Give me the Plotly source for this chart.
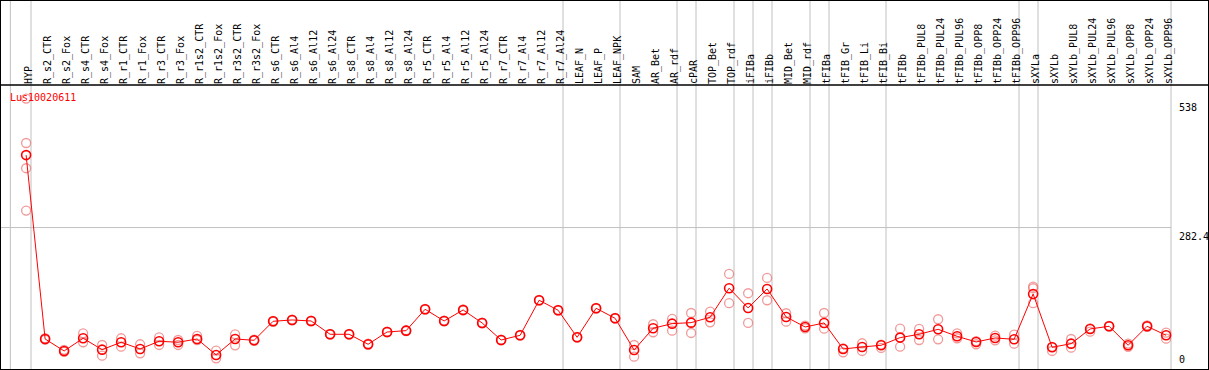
import plotly.graph_objects as go

categories = ["HYP", "R_s2_CTR", "R_s2_Fox", "R_s4_CTR", "R_s4_Fox", "R_r1_CTR", "R_r1_Fox",
              "R_r3_CTR", "R_r3_Fox", "R_r1s2_CTR", "R_r1s2_Fox", "R_r3s2_CTR", "R_r3s2_Fox",
              "R_s6_CTR", "R_s6_Al4", "R_s6_Al12", "R_s6_Al24", "R_s8_CTR", "R_s8_Al4", "R_s8_Al12",
              "R_s8_Al24", "R_r5_CTR", "R_r5_Al4", "R_r5_Al12", "R_r5_Al24", "R_r7_CTR", "R_r7_Al4",
              "R_r7_Al12", "R_r7_Al24", "LEAF_N", "LEAF_P", "LEAF_NPK", "SAM", "AR_Bet", "AR_rdf",
              "cPAR", "TOP_Bet", "TOP_rdf", "iFIBa", "iFIBb", "MID_Bet", "MID_rdf", "tFIBa",
              "tFIB_Gr", "tFIB_Li", "tFIB_Bi", "tFIBb", "tFIBb_PUL8", "tFIBb_PUL24", "tFIBb_PUL96",
              "tFIBb_OPP8", "tFIBb_OPP24", "tFIBb_OPP96", "sXYLa", "sXYLb", "sXYLb_PUL8",
              "sXYLb_PUL24", "sXYLb_PUL96", "sXYLb_OPP8", "sXYLb_OPP24", "sXYLb_OPP96"]

mean_values = [426, 61.5, 37.7, 62.9, 40.3, 55, 41.7, 57, 55, 61.5, 29.8, 61.5, 58.9,
               96.6, 99.2, 97.2, 70.8, 70.8, 51, 75.4, 78, 120.4, 97.2, 119, 93.3, 59.5, 68.8,
               138.3, 118.5, 64.8, 122.4, 102.5, 39.7, 82.7, 91.9, 93.9, 104.6, 162.1, 123,
               160.7, 105.2, 85.3, 93.3, 41.7, 45.6, 49, 64.2, 70.8, 80.7, 66.8, 55.6, 63.5,
               60.9, 150.8, 45, 52.2, 81.4, 86.7, 49, 86.7, 68.8]

rep_a = [538, 63, 40, 72.8, 49.6, 62.9, 51, 64.8, 59.5, 67.5, 38.4, 70.8, 60,
         97.5, 100, 98, 71.5, 71.5, 52, 76, 79, 121, 98, 120, 94, 60.2, 69.5,
         139, 119.3, 65.5, 123, 103.2, 49.6, 90.7, 101.2, 113, 115.7, 190.5, 152.2,
         182.6, 112.5, 88, 113, 43, 53, 50.5, 82, 81.4, 100.6, 72.8, 57, 68,
         70, 165.3, 46, 61.5, 82.5, 87.5, 52.3, 88.5, 74]

rep_b = [316, 60, 36, 55, 28.4, 46.2, 33, 49.6, 49.6, 59.5, 23.2, 49, 58,
         95.5, 98.5, 96.5, 70, 70, 50, 74.8, 77, 119.8, 96.5, 118, 92.5, 58.8, 68,
         137.5, 117.8, 64, 121.7, 101.8, 26.4, 74.8, 78, 73.4, 94.6, 132.4, 93.3,
         138.3, 95.9, 82.5, 82, 35, 37.7, 43.7, 46.2, 59.5, 60.9, 62.9, 51, 58.9,
         52.2, 132.4, 37.7, 44.3, 76, 86, 46, 85.5, 62.1]

rep_c = [450] + [None] * 52 + [162.1] + [None] * 7
rep_d = [400] + [None] * 60

separator_after = ["HYP", "R_r7_Al24", "LEAF_NPK", "AR_rdf", "cPAR", "TOP_rdf", "iFIBa",
                   "iFIBb", "MID_rdf", "tFIBa", "tFIB_Bi", "tFIBb_OPP96", "sXYLa", "sXYLb_OPP96"]

y_ticks = [538, 282.4, 0]
gene_label = "Lus10020611"

FONT = "DejaVu Sans Mono"
W, H = 1209, 370
HEADER = 85
ymax = 565
STEP = 19.0
X0PX = 26.115
XR = [-X0PX / STEP, -X0PX / STEP + W / STEP]

fig = go.Figure()

rx, ry = [], []
for reps in (rep_a, rep_b, rep_c, rep_d):
    for c, v in zip(categories, reps):
        if v is not None:
            rx.append(c)
            ry.append(v)

fig.add_trace(go.Scatter(x=rx, y=ry, mode="markers",
                         marker=dict(symbol="circle-open", size=9, color="rgba(235,120,120,0.75)",
                                     line=dict(width=1.3)),
                         hoverinfo="skip", showlegend=False))
fig.add_trace(go.Scatter(x=categories, y=mean_values, mode="lines+markers",
                         line=dict(color="#ff0000", width=1),
                         marker=dict(symbol="circle-open", size=9, color="#ff0000",
                                     line=dict(width=1.6)),
                         showlegend=False))

shapes = []
idx = {c: i for i, c in enumerate(categories)}
off = 0.2571
sep_x = [-0.83] + [idx[s] + off for s in separator_after]
for sx in sep_x:
    shapes.append(dict(type="line", xref="x", yref="paper", x0=sx, x1=sx, y0=0, y1=1,
                       line=dict(color="#c0c0c0", width=1), layer="below"))
shapes.append(dict(type="line", xref="paper", yref="y", x0=0,
                   x1=(sep_x[-1] - XR[0]) / (XR[1] - XR[0]),
                   y0=y_ticks[1], y1=y_ticks[1], line=dict(color="#c0c0c0", width=1), layer="below"))
top_frac = 1 - HEADER / H
shapes.append(dict(type="line", xref="paper", yref="paper", x0=0, x1=1, y0=top_frac, y1=top_frac,
                   line=dict(color="black", width=1.5)))
shapes.append(dict(type="rect", xref="paper", yref="paper", x0=0, x1=1, y0=0, y1=1,
                   line=dict(color="black", width=2)))

annotations = [dict(text=gene_label, xref="paper", yref="paper", x=8 / W, y=1 - 97 / H,
                    xanchor="left", yanchor="middle", showarrow=False,
                    font=dict(family=FONT, size=10, color="#ff0000"))]
for v in y_ticks:
    txt = f"{v:g}"
    annotations.append(dict(text=txt, xref="paper", yref="y", x=1177 / W, y=v,
                            xanchor="left", yanchor="bottom" if v == 0 else "top",
                            yshift=3 if v == 0 else -1, showarrow=False,
                            font=dict(family=FONT, size=10, color="black")))

fig.update_layout(
    width=W, height=H, margin=dict(l=0, r=0, t=0, b=0),
    paper_bgcolor="white", plot_bgcolor="white",
    shapes=shapes, annotations=annotations,
    xaxis=dict(type="category", side="top", range=XR, tickangle=-90,
               tickmode="array", tickvals=categories, ticktext=categories,
               tickfont=dict(family=FONT, size=10, color="black"), ticks="",
               ticklabelshift=3,
               showgrid=False, zeroline=False, showline=False, automargin=False),
    yaxis=dict(domain=[0, top_frac], range=[0, ymax], showticklabels=False, showgrid=False,
               zeroline=False, showline=False, automargin=False),
)

fig.write_html("out.html", config={"displayModeBar": False},
               post_script="document.body.style.margin='0';document.body.style.overflow='hidden';")
